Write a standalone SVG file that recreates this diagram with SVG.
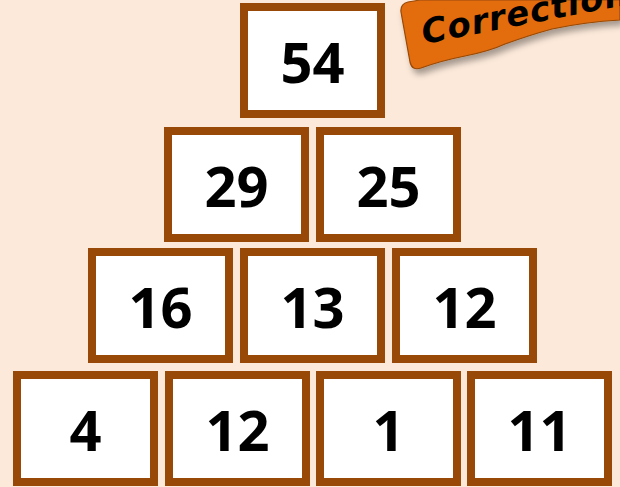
<svg xmlns="http://www.w3.org/2000/svg" width="620" height="487" viewBox="0 0 620 487">
<defs>
<style>
.box rect{fill:#ffffff;stroke:#984807;stroke-width:8}
.box text{font-family:"Open Sans","Liberation Sans",sans-serif;font-weight:bold;font-size:56px;fill:#000;text-anchor:middle}
</style>
<filter id="sh" x="-20%" y="-20%" width="140%" height="160%">
<feDropShadow dx="3" dy="5" stdDeviation="3" flood-color="#000" flood-opacity="0.35"/>
</filter>
</defs>
<rect width="620" height="487" fill="#FCE9DA"/>
<g id="banner">
<path d="M 420,0 L 408,2 Q 400,4 401,12 L 410,62 Q 412,71 421,68 Q 440,61 465,56 Q 490,51 505,44 Q 530,35 552,29 Q 585,22 620,20 L 620,0 Z" fill="#E36C09" stroke="#984807" stroke-width="1.2" filter="url(#sh)"/>
<text transform="translate(424,44) rotate(-11)" font-family="DejaVu Sans, sans-serif" font-style="italic" font-weight="bold" font-size="34" letter-spacing="1" fill="#000">Correction</text>
</g>
<g id="n54" class="box"><rect x="244" y="7" width="137" height="107"/><text x="312.5" y="83">54</text></g>
<g id="n29" class="box"><rect x="168" y="131" width="137" height="107"/><text x="236.5" y="207">29</text></g>
<g id="n25" class="box"><rect x="320" y="131" width="137" height="107"/><text x="388.5" y="207">25</text></g>
<g id="n16" class="box"><rect x="92" y="252" width="137" height="107"/><text x="160.5" y="328">16</text></g>
<g id="n13" class="box"><rect x="244" y="252" width="137" height="107"/><text x="312.5" y="328">13</text></g>
<g id="n12a" class="box"><rect x="396" y="252" width="137" height="107"/><text x="464.5" y="328">12</text></g>
<g id="n4" class="box"><rect x="17" y="375" width="137" height="107"/><text x="85.5" y="451">4</text></g>
<g id="n12b" class="box"><rect x="169" y="375" width="137" height="107"/><text x="237.5" y="451">12</text></g>
<g id="n1" class="box"><rect x="320" y="375" width="137" height="107"/><text x="388.5" y="451">1</text></g>
<g id="n11" class="box"><rect x="471" y="375" width="137" height="107"/><text x="539.5" y="451">11</text></g>
<g id="connectors"/>
</svg>
